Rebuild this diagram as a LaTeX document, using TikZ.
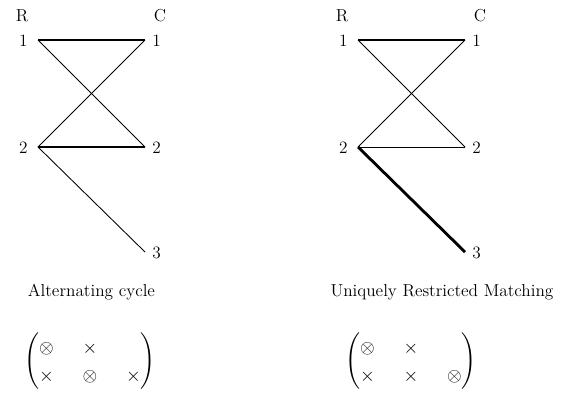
\documentclass[tikz,border=0pt]{standalone}
\usepackage{amsmath}
\begin{document}
\begin{tikzpicture}[x=0.636pt,y=-0.636pt,
  font=\fontsize{11}{13}\selectfont,
  thinedge/.style={line width=0.55pt},
  thickedge/.style={line width=1.8pt},
  lbl/.style={inner sep=0pt},
  mat/.style={inner sep=0pt,font=\large}]
\path[use as bounding box] (0,0) rectangle (574,394);
% left graph
\coordinate (ar1) at (38,40);
\coordinate (ar2) at (38,147);
\coordinate (ac1) at (145,40);
\coordinate (ac2) at (145,147);
\coordinate (ac3) at (145,252);
\node[lbl] (aR) at (22,16) {R};
\node[lbl] (aC) at (160,16) {C};
\node[lbl,anchor=east] (ar1l) at (28,41) {1};
\node[lbl,anchor=east] (ar2l) at (28,148) {2};
\node[lbl,anchor=west] (ac1l) at (152,41) {1};
\node[lbl,anchor=west] (ac2l) at (152,148) {2};
\node[lbl,anchor=west] (ac3l) at (152,253) {3};
\draw[thickedge] (ar1) -- (ac1);
\draw[thinedge] (ar1) -- (ac2);
\draw[thinedge] (ar2) -- (ac1);
\draw[thickedge] (ar2) -- (ac2);
\draw[thinedge] (ar2) -- (ac3);
\node (acap) at (91.5,292) {Alternating cycle};
\node[mat] (amat) at (90,361.5) {$\renewcommand\arraystretch{1.27}\setlength\arraycolsep{9.2pt}\left(\begin{array}{@{}ccc@{}}\otimes & \times & \\ \times & \otimes & \times\end{array}\right)$};
% right graph
\coordinate (br1) at (358,40);
\coordinate (br2) at (358,147);
\coordinate (bc1) at (465,40);
\coordinate (bc2) at (465,147);
\coordinate (bc3) at (465,252);
\node[lbl] (bR) at (342,16) {R};
\node[lbl] (bC) at (480,16) {C};
\node[lbl,anchor=east] (br1l) at (348,41) {1};
\node[lbl,anchor=east] (br2l) at (348,148) {2};
\node[lbl,anchor=west] (bc1l) at (472,41) {1};
\node[lbl,anchor=west] (bc2l) at (472,148) {2};
\node[lbl,anchor=west] (bc3l) at (472,253) {3};
\draw[thickedge] (br1) -- (bc1);
\draw[thinedge] (br1) -- (bc2);
\draw[thinedge] (br2) -- (bc1);
\draw[thinedge] (br2) -- (bc2);
\draw[thickedge] (br2) -- (bc3);
\node (bcap) at (442,292) {Uniquely Restricted Matching};
\node[mat] (bmat) at (411,361.5) {$\renewcommand\arraystretch{1.27}\setlength\arraycolsep{9.2pt}\left(\begin{array}{@{}ccc@{}}\otimes & \times & \\ \times & \times & \otimes\end{array}\right)$};
\end{tikzpicture}
\end{document}
